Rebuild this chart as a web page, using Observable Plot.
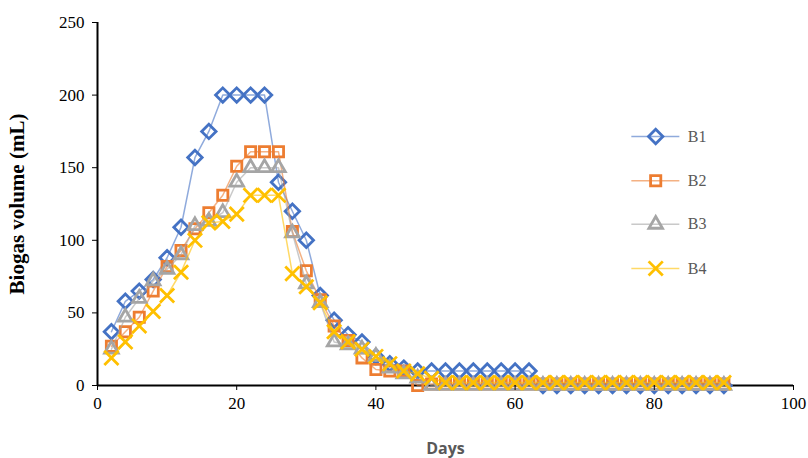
<!DOCTYPE html>
<html><head><meta charset="utf-8">
<script src="https://cdn.jsdelivr.net/npm/d3@7"></script>
<script src="https://cdn.jsdelivr.net/npm/@observablehq/plot@0.6"></script>
<style>body{margin:0;background:#fff}</style>
</head><body><div id="chart"></div>
<script>
const days = d3.range(2, 91, 2);
const B1 = [37,58,65,73,88,109,157,175,200,200,200,200,140,120,100,62,45,35,30,20,15,12,10,10,10,10,10,10,10,10,10,0,0,0,0,0,0,0,0,0,0,0,0,0,0];
const B2 = [27,37,47,65,82,93,108,119,131,151,161,161,161,106,79,59,41,31,19,11,10,10,0,1,1,1,1,1,1,1,1,1,1,1,1,1,1,1,1,1,1,1,1,1,1];
const B3 = [25,47,60,72,80,90,110,113,119,140,150,150,150,105,70,57,30,28,25,20,12,8,5,0,0,0,0,0,0,0,0,0,0,0,0,0,0,0,0,0,0,0,0,0,0];
const B4 = [19,30,41,51,62,78,100,112,113,118,131,131,131,77,68,57,37,30,25,20,15,10,8,5,2,2,2,2,2,2,2,2,2,2,2,2,2,2,2,2,2,2,2,2,2];
const names = ["B1","B2","B3","B4"];
const colors = ["#4472c4","#ed7d31","#a5a5a5","#ffc000"];
const symbols = ["diamond2","square2","triangle2","times"];
const legendY = [171.5,141,111,80.6];

const series = [B1,B2,B3,B4];
const rows = series.flatMap((s, i) => s.map((v, j) => ({name: names[i], day: days[j], v})));
const legend = names.map((n, i) => ({name: n, y: legendY[i]}));
const serif = "'Liberation Serif', 'DejaVu Serif', serif";

const marks = [];
names.forEach((n, i) => {
  const d = rows.filter(r => r.name === n);
  marks.push(Plot.line(d, {x: "day", y: "v", stroke: colors[i], strokeOpacity: 0.6, strokeWidth: 1.5}));
  marks.push(Plot.dot(d, {x: "day", y: "v", stroke: colors[i], symbol: () => symbols[i], r: 6.5, strokeWidth: 2.8}));
  const l = [legend[i]];
  marks.push(Plot.link(l, {x1: 76.7, x2: 83.6, y1: "y", y2: "y", stroke: colors[i], strokeOpacity: 0.6, strokeWidth: 1.5}));
  marks.push(Plot.dot(l, {x: 80.2, y: "y", stroke: colors[i], symbol: () => symbols[i], r: 6.5, strokeWidth: 2.8}));
  marks.push(Plot.text(l, {x: 84.8, y: "y", text: "name", textAnchor: "start", fontSize: 16, fill: "#595959", fontFamily: serif}));
});

const chart = Plot.plot({
  width: 808, height: 458,
  marginLeft: 97, marginRight: 15, marginTop: 22, marginBottom: 73,
  style: {fontFamily: serif, fontSize: "16px", color: "#000"},
  x: {domain: [0, 100], label: null},
  y: {domain: [0, 250], label: null},
  marks: [
    Plot.ruleY([0], {stroke: "#000", strokeWidth: 2}),
    Plot.ruleX([0], {stroke: "#000", strokeWidth: 2}),
    ...marks,
    Plot.axisX({ticks: d3.range(0, 101, 20), tickSize: 5, tickPadding: 6, fontSize: 17, label: null}),
    Plot.axisY({ticks: d3.range(0, 251, 50), tickSize: 5, tickPadding: 8, fontSize: 17, label: null}),
    Plot.text(["Days"], {frameAnchor: "bottom", dy: 68, fontSize: 16, fontWeight: "bold", fill: "#595959", fontFamily: "'Open Sans', sans-serif"}),
    Plot.text(["Biogas volume (mL)"], {frameAnchor: "left", textAnchor: "middle", dx: -80, rotate: -90, fontSize: 21, fontWeight: "bold", fontFamily: serif})
  ]
});
document.getElementById("chart").append(chart);
</script></body></html>
